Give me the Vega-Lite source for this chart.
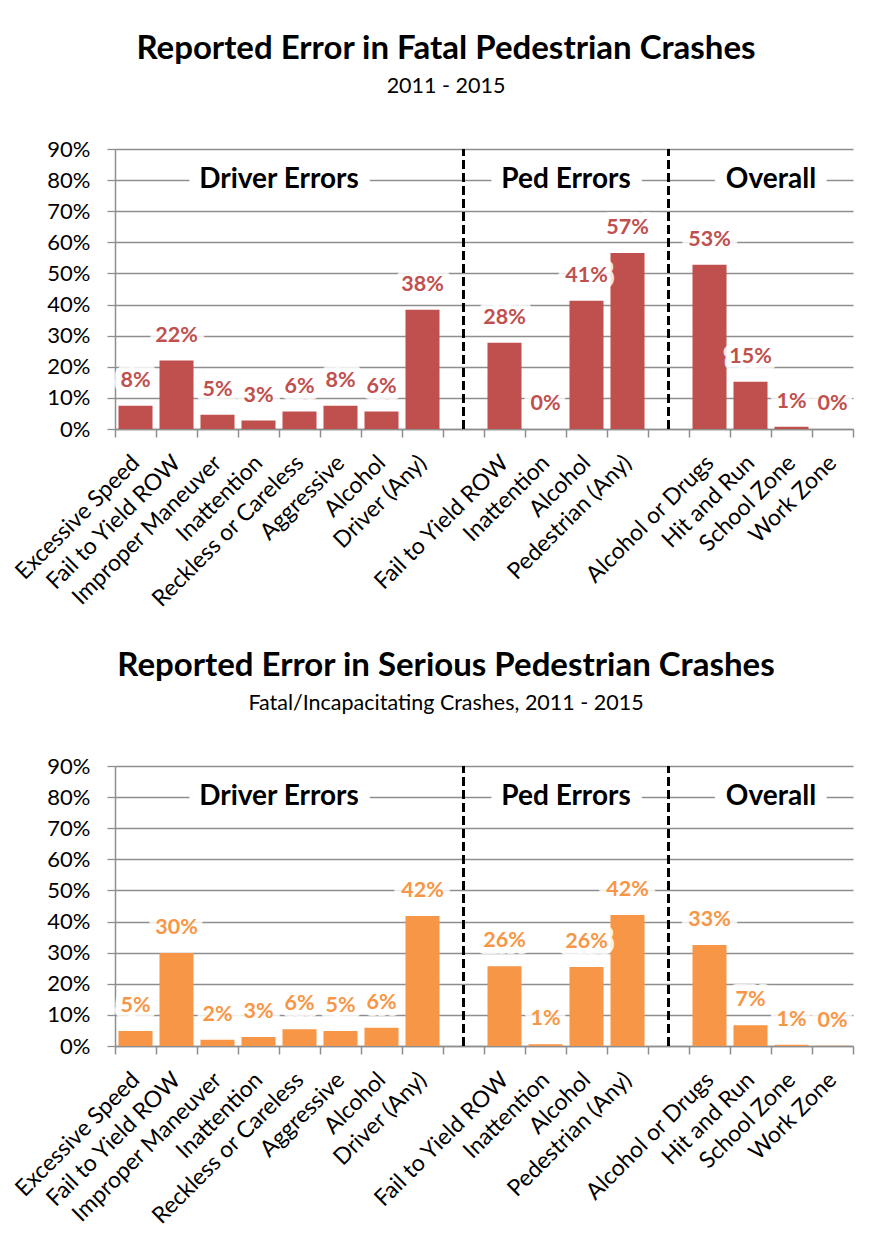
{
  "$schema": "https://vega.github.io/schema/vega-lite/v6.json",
  "background": "white",
  "padding": {"left": 11, "top": 32, "right": 5, "bottom": 5},
  "spacing": 37,
  "config": {
    "view": {"stroke": null},
    "font": "Lato",
    "axisX": {
      "title": null,
      "labelExpr": "split(datum.label, '|')[0]",
      "labelAngle": -45,
      "labelAlign": "right",
      "labelBaseline": "middle",
      "labelFontSize": 23,
      "labelColor": "black",
      "labelOverlap": false,
      "labelLimit": 0,
      "labelPadding": 22,
      "tickBand": "extent",
      "tickSize": 8,
      "tickColor": "#8e8e8e",
      "tickWidth": 1.5,
      "domainColor": "#8e8e8e",
      "domainWidth": 1.5,
      "grid": false
    },
    "axisY": {
      "title": null,
      "values": [0, 10, 20, 30, 40, 50, 60, 70, 80, 90],
      "labelExpr": "datum.value + '%'",
      "labelFontSize": 22,
      "labelColor": "black",
      "labelPadding": 17,
      "tickSize": 8,
      "tickColor": "#8e8e8e",
      "tickWidth": 1.3,
      "domainColor": "#8e8e8e",
      "domainWidth": 1.5,
      "grid": true,
      "gridColor": "#8e8e8e",
      "gridWidth": 1.3
    },
    "title": {
      "anchor": "middle",
      "frame": "group",
      "dx": -38,
      "font": "Lato",
      "fontSize": 33,
      "fontWeight": "bold",
      "color": "black",
      "subtitleFont": "Lato",
      "subtitleFontSize": 21.5,
      "subtitleColor": "black",
      "subtitlePadding": 10,
      "offset": 41
    }
  },
  "datasets": {
    "fatal": [
      {"key": "Excessive Speed", "pct": 7.5, "label": "8%"},
      {"key": "Fail to Yield ROW", "pct": 22.0, "label": "22%"},
      {"key": "Improper Maneuver", "pct": 4.6, "label": "5%"},
      {"key": "Inattention", "pct": 2.7, "label": "3%"},
      {"key": "Reckless or Careless", "pct": 5.6, "label": "6%"},
      {"key": "Aggressive", "pct": 7.5, "label": "8%"},
      {"key": "Alcohol", "pct": 5.6, "label": "6%"},
      {"key": "Driver (Any)", "pct": 38.3, "label": "38%"},
      {"key": "Fail to Yield ROW|p", "pct": 27.7, "label": "28%"},
      {"key": "Inattention|p", "pct": 0.0, "label": "0%"},
      {"key": "Alcohol|p", "pct": 41.2, "label": "41%"},
      {"key": "Pedestrian (Any)", "pct": 56.6, "label": "57%"},
      {"key": "Alcohol or Drugs", "pct": 52.8, "label": "53%"},
      {"key": "Hit and Run", "pct": 15.2, "label": "15%"},
      {"key": "School Zone", "pct": 0.7, "label": "1%"},
      {"key": "Work Zone", "pct": 0.0, "label": "0%"}
    ],
    "serious": [
      {"key": "Excessive Speed", "pct": 4.8, "label": "5%"},
      {"key": "Fail to Yield ROW", "pct": 29.9, "label": "30%"},
      {"key": "Improper Maneuver", "pct": 2.0, "label": "2%"},
      {"key": "Inattention", "pct": 2.9, "label": "3%"},
      {"key": "Reckless or Careless", "pct": 5.4, "label": "6%"},
      {"key": "Aggressive", "pct": 4.8, "label": "5%"},
      {"key": "Alcohol", "pct": 5.9, "label": "6%"},
      {"key": "Driver (Any)", "pct": 41.8, "label": "42%"},
      {"key": "Fail to Yield ROW|p", "pct": 25.6, "label": "26%"},
      {"key": "Inattention|p", "pct": 0.6, "label": "1%"},
      {"key": "Alcohol|p", "pct": 25.4, "label": "26%"},
      {"key": "Pedestrian (Any)", "pct": 42.1, "label": "42%"},
      {"key": "Alcohol or Drugs", "pct": 32.5, "label": "33%"},
      {"key": "Hit and Run", "pct": 6.7, "label": "7%"},
      {"key": "School Zone", "pct": 0.4, "label": "1%"},
      {"key": "Work Zone", "pct": 0.1, "label": "0%"}
    ],
    "groups": [
      {"key": "Inattention", "text": "Driver Errors"},
      {"key": "Inattention|p", "text": "Ped Errors"},
      {"key": "Hit and Run", "text": "Overall"}
    ],
    "gaps": [{"key": "|g1"}, {"key": "|g2"}]
  },
  "vconcat": [
    {
      "width": 738,
      "height": 280,
      "title": {"text": "Reported Error in Fatal Pedestrian Crashes", "subtitle": "2011 - 2015"},
      "layer": [
        {
          "data": {"name": "fatal"},
          "mark": {"type": "bar", "color": "#C0504D", "width": {"band": 0.83}},
          "encoding": {
            "x": {"field": "key", "type": "nominal", "sort": null,
              "scale": {"domain": ["Excessive Speed", "Fail to Yield ROW", "Improper Maneuver", "Inattention", "Reckless or Careless", "Aggressive", "Alcohol", "Driver (Any)", "|g1", "Fail to Yield ROW|p", "Inattention|p", "Alcohol|p", "Pedestrian (Any)", "|g2", "Alcohol or Drugs", "Hit and Run", "School Zone", "Work Zone"], "paddingInner": 0, "paddingOuter": 0}},
            "y": {"field": "pct", "type": "quantitative", "scale": {"domain": [0, 90], "nice": false}}
          }
        },
        {
          "data": {"name": "gaps"},
          "mark": {"type": "rule", "color": "black", "strokeWidth": 3, "strokeDash": [9, 4]},
          "encoding": {"x": {"field": "key", "type": "nominal"}, "y": {"datum": 0}, "y2": {"datum": 90}}
        },
        {
          "data": {"name": "groups"},
          "mark": {"type": "text", "dx": 20.5, "fontSize": 28, "fontWeight": "bold", "fill": "white", "stroke": "white", "strokeWidth": 24, "strokeJoin": "round", "baseline": "middle"},
          "encoding": {"x": {"field": "key", "type": "nominal"}, "y": {"datum": 80}, "text": {"field": "text"}}
        },
        {
          "data": {"name": "groups"},
          "mark": {"type": "text", "dx": 20.5, "fontSize": 28, "fontWeight": "bold", "color": "black", "baseline": "middle"},
          "encoding": {"x": {"field": "key", "type": "nominal"}, "y": {"datum": 80}, "text": {"field": "text"}}
        },
        {
          "data": {"name": "fatal"},
          "mark": {"type": "text", "dy": -25, "fontSize": 21.5, "fontWeight": "bold", "fill": "white", "stroke": "white", "strokeWidth": 14, "strokeJoin": "round", "strokeOpacity": 0.85, "baseline": "middle"},
          "encoding": {"x": {"field": "key", "type": "nominal"}, "y": {"field": "pct", "type": "quantitative"}, "text": {"field": "label"}}
        },
        {
          "data": {"name": "fatal"},
          "mark": {"type": "text", "dy": -25, "fontSize": 21.5, "fontWeight": "bold", "color": "#C0504D", "baseline": "middle"},
          "encoding": {"x": {"field": "key", "type": "nominal"}, "y": {"field": "pct", "type": "quantitative"}, "text": {"field": "label"}}
        }
      ]
    },
    {
      "width": 738,
      "height": 280,
      "title": {"text": "Reported Error in Serious Pedestrian Crashes", "subtitle": "Fatal/Incapacitating Crashes, 2011 - 2015"},
      "layer": [
        {
          "data": {"name": "serious"},
          "mark": {"type": "bar", "color": "#F79646", "width": {"band": 0.83}},
          "encoding": {
            "x": {"field": "key", "type": "nominal", "sort": null,
              "scale": {"domain": ["Excessive Speed", "Fail to Yield ROW", "Improper Maneuver", "Inattention", "Reckless or Careless", "Aggressive", "Alcohol", "Driver (Any)", "|g1", "Fail to Yield ROW|p", "Inattention|p", "Alcohol|p", "Pedestrian (Any)", "|g2", "Alcohol or Drugs", "Hit and Run", "School Zone", "Work Zone"], "paddingInner": 0, "paddingOuter": 0}},
            "y": {"field": "pct", "type": "quantitative", "scale": {"domain": [0, 90], "nice": false}}
          }
        },
        {
          "data": {"name": "gaps"},
          "mark": {"type": "rule", "color": "black", "strokeWidth": 3, "strokeDash": [9, 4]},
          "encoding": {"x": {"field": "key", "type": "nominal"}, "y": {"datum": 0}, "y2": {"datum": 90}}
        },
        {
          "data": {"name": "groups"},
          "mark": {"type": "text", "dx": 20.5, "fontSize": 28, "fontWeight": "bold", "fill": "white", "stroke": "white", "strokeWidth": 24, "strokeJoin": "round", "baseline": "middle"},
          "encoding": {"x": {"field": "key", "type": "nominal"}, "y": {"datum": 80}, "text": {"field": "text"}}
        },
        {
          "data": {"name": "groups"},
          "mark": {"type": "text", "dx": 20.5, "fontSize": 28, "fontWeight": "bold", "color": "black", "baseline": "middle"},
          "encoding": {"x": {"field": "key", "type": "nominal"}, "y": {"datum": 80}, "text": {"field": "text"}}
        },
        {
          "data": {"name": "serious"},
          "mark": {"type": "text", "dy": -25, "fontSize": 21.5, "fontWeight": "bold", "fill": "white", "stroke": "white", "strokeWidth": 14, "strokeJoin": "round", "strokeOpacity": 0.85, "baseline": "middle"},
          "encoding": {"x": {"field": "key", "type": "nominal"}, "y": {"field": "pct", "type": "quantitative"}, "text": {"field": "label"}}
        },
        {
          "data": {"name": "serious"},
          "mark": {"type": "text", "dy": -25, "fontSize": 21.5, "fontWeight": "bold", "color": "#F79646", "baseline": "middle"},
          "encoding": {"x": {"field": "key", "type": "nominal"}, "y": {"field": "pct", "type": "quantitative"}, "text": {"field": "label"}}
        }
      ]
    }
  ]
}
